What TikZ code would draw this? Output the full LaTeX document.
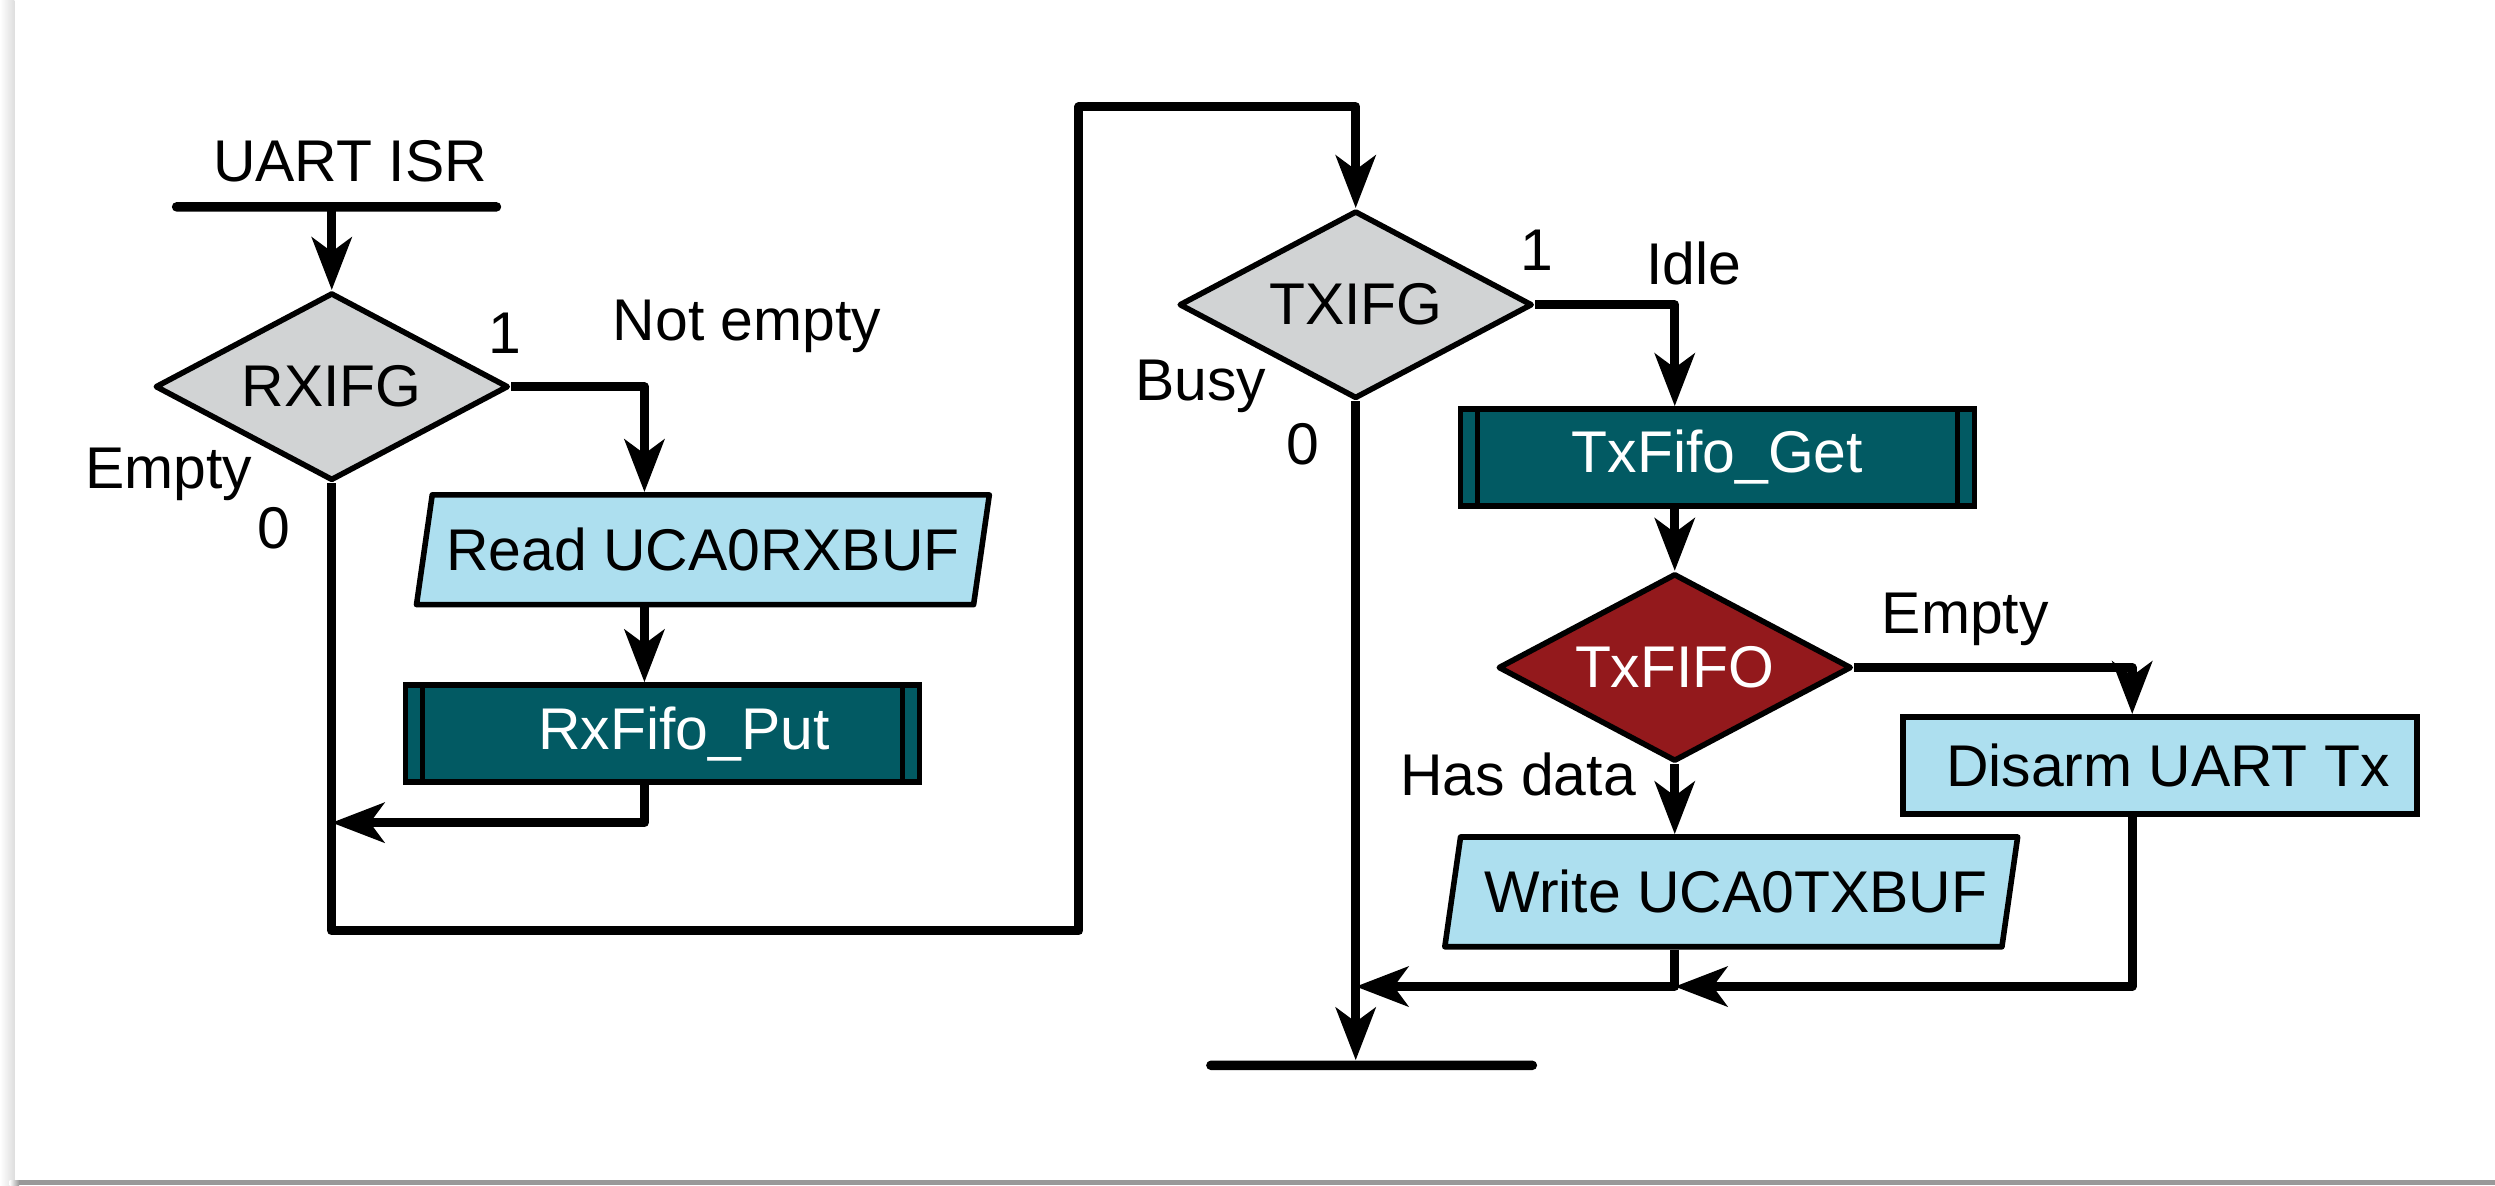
\documentclass[tikz,border=0pt]{standalone}
\usepackage{fontspec}
\setmainfont{Liberation Sans}
\usetikzlibrary{shapes.geometric,arrows.meta,calc}
\definecolor{dgray}{HTML}{D1D3D4}
\definecolor{lblue}{HTML}{ADDFEF}
\definecolor{subteal}{HTML}{025A63}
\definecolor{dred}{HTML}{93191C}
\definecolor{shadowgray}{HTML}{999999}
\begin{document}
\begin{tikzpicture}[x=1pt,y=-1pt,
  every node/.style={font=\fontsize{37}{44}\selectfont},
  conn/.style={line width=5.5pt, line join=round, -{Stealth[length=33pt,width=25pt,inset=9pt]}},
  dec/.style={shape=diamond, aspect=1.88, draw, line width=3.5pt, line join=round, minimum width=222pt, minimum height=118pt, inner sep=0pt},
  io/.style={shape=trapezium, trapezium left angle=70, trapezium right angle=110, trapezium stretches body=true, draw, line width=3.5pt, line join=round, fill=lblue, minimum width=360pt, minimum height=69pt, inner sep=0pt},
  proc/.style={rectangle, draw, line width=3.5pt, fill=lblue, minimum width=323pt, minimum height=61pt, inner sep=0pt},
  subproc/.style={rectangle, draw, line width=3.5pt, fill=subteal, text=white, minimum width=323pt, minimum height=61pt, inner sep=0pt,
    path picture={\draw[line width=3pt]
      ([xshift=10.5pt]path picture bounding box.north west) -- ([xshift=10.5pt]path picture bounding box.south west)
      ([xshift=-10.5pt]path picture bounding box.north east) -- ([xshift=-10.5pt]path picture bounding box.south east);}},
  bar/.style={fill=black, inner sep=0pt, minimum height=6pt, rounded corners=3pt},
  lbl/.style={anchor=base, inner sep=0pt}
]
\useasboundingbox (0,0) rectangle (1568,745);
\fill[white] (0,0) rectangle (1568,745);
\shade[left color=white, right color=black!13] (0,0) rectangle (9,745);
\fill[shadowgray] (12,741.6) rectangle (1568,745);
\shade[left color=white, right color=shadowgray] (6,741.6) rectangle (12,745);

% named helper coordinates
\coordinate (cL) at (405,0);
\coordinate (cD) at (1340,0);
\coordinate (yRx) at (0,517);
\coordinate (yW) at (0,620);
\coordinate (loopB) at (678,585);
\coordinate (loopT) at (678,67);

% nodes
\node[lbl] (isr) at (220,114) {UART ISR};
\node[bar, minimum width=207pt] (start) at (211.5,130) {};
\node[dec, fill=dgray] (rxifg) at (208.5,243) {RXIFG};
\node[io] (read) at (441.75,345.5) {\makebox[0pt]{Read UCA0RXBUF}};
\node[subproc] (rxput) at (416.3,461) {\hspace*{27pt}RxFifo\_Put};

\node[dec, fill=dgray] (txifg) at (852,191.5) {TXIFG};
\node[subproc] (txget) at (1079.3,287.5) {TxFifo\_Get};
\node[dec, fill=dred, text=white] (txfifo) at (1052.5,419.5) {TxFIFO};
\node[proc] (disarm) at (1357.4,481) {\hspace*{10pt}Disarm UART Tx};
\node[io] (write) at (1088,560.5) {\makebox[0pt]{\hspace*{6pt}Write UCA0TXBUF}};
\node[bar, minimum width=208pt] (stop) at (862,669.5) {};

% labels
\node[lbl] (l1a) at (317.5,222) {1};
\node[lbl] (lne) at (469.5,214) {Not empty};
\node[lbl] (lempa) at (106,307) {Empty};
\node[lbl] (l0a) at (172,345) {0};
\node[lbl] (l1b) at (966,170) {1};
\node[lbl] (lidle) at (1064.5,179) {Idle};
\node[lbl] (lbusy) at (754.5,252) {Busy};
\node[lbl] (l0b) at (819,292) {0};
\node[lbl] (lempb) at (1235,398) {Empty};
\node[lbl] (lhas) at (954,500) {Has data};

% connectors
\draw[conn] (start.center -| rxifg.north) -- (rxifg.north);
\draw[conn] (rxifg.east) -| (read.north -| cL);
\draw[conn] (read.south -| cL) -- (rxput.north -| cL);
\draw[conn] (rxput.south -| cL) |- (rxifg.south |- yRx);
\draw[conn] (rxifg.south) |- (loopB) -- (loopT) -| (txifg.north);
\draw[conn] (txifg.east) -| (txget.north -| txfifo.north);
\draw[conn] (txget.south -| txfifo.north) -- (txfifo.north);
\draw[conn] (txfifo.east) -| (disarm.north -| cD);
\draw[conn] (txfifo.south) -- (write.north -| txfifo.south);
\draw[conn] (write.south -| txfifo.south) |- (txifg.south |- yW);
\draw[conn] (disarm.south -| cD) |- (txfifo.south |- yW);
\draw[conn] (txifg.south) -- (stop.north -| txifg.south);
\end{tikzpicture}
\end{document}
